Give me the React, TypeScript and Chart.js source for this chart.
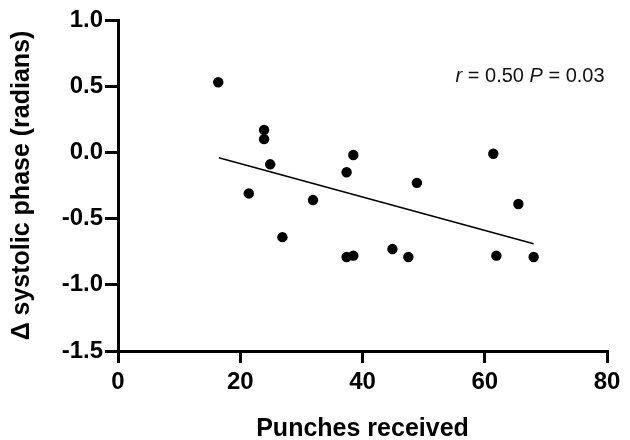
import React, { useEffect, useRef } from "react";
import { Chart, registerables } from "chart.js";

Chart.register(...registerables);

// Data
const punches = [16.4, 23.9, 23.9, 24.9, 21.4, 26.9, 31.9, 37.4, 38.5, 37.4, 38.5, 44.9, 47.5, 48.9, 61.4, 61.9, 65.5, 68.0];
const phase = [0.53, 0.17, 0.1, -0.09, -0.31, -0.64, -0.36, -0.15, -0.02, -0.79, -0.78, -0.73, -0.79, -0.23, -0.01, -0.78, -0.39, -0.79];
const fitX = [16.5, 68.0];
const fitY = [-0.04, -0.69];
const xTicks = [0, 20, 40, 60, 80];
const yTicks = [-1.5, -1.0, -0.5, 0.0, 0.5, 1.0];
const xTitle = "Punches received";
const yTitle = "Δ systolic phase (radians)";
const statParts = [
  { text: "r", italic: true },
  { text: " = 0.50 ", italic: false },
  { text: "P", italic: true },
  { text: " = 0.03", italic: false },
];

const FONT = "'Liberation Sans', Arial, sans-serif";

const statPlugin = {
  id: "statText",
  afterDraw(chart: any) {
    const { ctx, scales } = chart;
    const size = 20;
    const right = scales.x.getPixelForValue(79.6);
    const baseline = scales.y.getPixelForValue(0.528);
    ctx.save();
    ctx.fillStyle = "#111";
    ctx.textBaseline = "alphabetic";
    ctx.textAlign = "left";
    const widths = statParts.map((p) => {
      ctx.font = `${p.italic ? "italic " : ""}${size}px ${FONT}`;
      return ctx.measureText(p.text).width;
    });
    const total = widths.reduce((a, b) => a + b, 0);
    let x = right - total;
    statParts.forEach((p, i) => {
      ctx.font = `${p.italic ? "italic " : ""}${size}px ${FONT}`;
      ctx.fillText(p.text, x, baseline);
      x += widths[i];
    });
    ctx.restore();
  },
};

export default function App() {
  const ref = useRef<HTMLCanvasElement>(null);

  useEffect(() => {
    document.body.style.margin = "0";
    const canvas = ref.current;
    if (!canvas) return;
    const chart = new Chart(canvas, {
      type: "scatter",
      data: {
        datasets: [
          {
            type: "scatter",
            data: punches.map((x, i) => ({ x, y: phase[i] })),
            backgroundColor: "#000",
            borderWidth: 0,
            pointRadius: 5.2,
            pointHoverRadius: 5.2,
          },
          {
            type: "line",
            data: fitX.map((x, i) => ({ x, y: fitY[i] })),
            borderColor: "#000",
            borderWidth: 1.6,
            pointRadius: 0,
            fill: false,
          } as any,
        ],
      },
      options: {
        animation: false,
        responsive: false,
        maintainAspectRatio: false,
        layout: { padding: { top: 20, right: 23, left: 0, bottom: 0 } },
        plugins: {
          legend: { display: false },
          tooltip: { enabled: false },
        },
        scales: {
          x: {
            type: "linear",
            min: 0,
            max: 80,
            afterBuildTicks: (s: any) => {
              s.ticks = xTicks.map((v) => ({ value: v }));
            },
            afterFit: (s: any) => {
              s.height = 89;
            },
            grid: {
              drawOnChartArea: false,
              drawTicks: true,
              tickLength: 12,
              lineWidth: 3,
              color: "#000",
            },
            border: { color: "#000", width: 3 },
            ticks: {
              color: "#000",
              padding: 5,
              font: { family: FONT, size: 24, weight: "bold" },
              callback: (v: any) => String(v),
            },
            title: {
              display: true,
              text: xTitle,
              color: "#000",
              padding: { top: 0, bottom: -4.5 },
              font: { family: FONT, size: 25, weight: "bold" },
            },
          },
          y: {
            type: "linear",
            min: -1.5,
            max: 1.0,
            afterBuildTicks: (s: any) => {
              s.ticks = yTicks.map((v) => ({ value: v }));
            },
            afterFit: (s: any) => {
              s.width = 118;
            },
            grid: {
              drawOnChartArea: false,
              drawTicks: true,
              tickLength: 13,
              lineWidth: 3,
              color: "#000",
            },
            border: { color: "#000", width: 3 },
            ticks: {
              color: "#000",
              padding: 2,
              font: { family: FONT, size: 24, weight: "bold" },
              callback: (v: any) => Number(v).toFixed(1),
            },
            title: {
              display: true,
              text: yTitle,
              color: "#000",
              padding: { top: 7.5, bottom: 0 },
              font: { family: FONT, size: 25, weight: "bold" },
            },
          },
        },
      },
      plugins: [statPlugin],
    });
    return () => chart.destroy();
  }, []);

  return (
    <div style={{ width: 630, height: 440 }}>
      <canvas ref={ref} width={630} height={440} style={{ display: "block" }} />
    </div>
  );
}
